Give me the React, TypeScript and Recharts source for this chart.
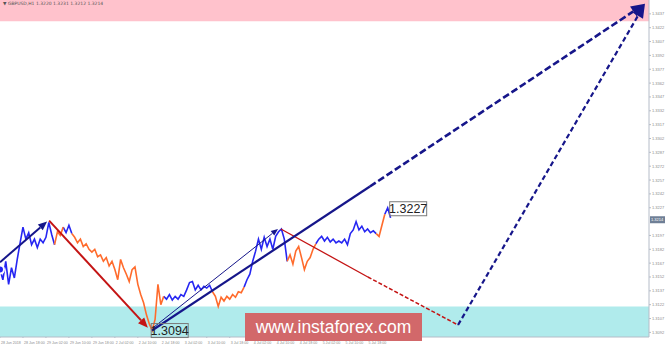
import React from 'react';
import {
  LineChart,
  Line,
  XAxis,
  YAxis,
  ReferenceArea,
  ReferenceLine,
  ReferenceDot,
} from 'recharts';

// H1 bars, one label every 8 bars
const timeLabels = [
  '28 Jun 2018', '28 Jun 18:00', '29 Jun 02:00', '29 Jun 10:00', '29 Jun 18:00',
  '2 Jul 02:00', '2 Jul 10:00', '2 Jul 18:00', '3 Jul 02:00', '3 Jul 10:00',
  '3 Jul 18:00', '4 Jul 02:00', '4 Jul 10:00', '4 Jul 18:00', '5 Jul 02:00',
  '5 Jul 10:00', '5 Jul 18:00',
];

const prices = [
  1.3160, 1.3149, 1.3169, 1.3144, 1.3162, 1.3151, 1.3171, 1.3189, 1.3206, 1.3193,
  1.3200, 1.3187, 1.3193, 1.3184, 1.3193, 1.3189, 1.3195, 1.3211, 1.3198, 1.3187,
  1.3201, 1.3197, 1.3206, 1.3200, 1.3208, 1.3199, 1.3195, 1.3189, 1.3193, 1.3185,
  1.3188, 1.3182, 1.3179, 1.3182, 1.3174, 1.3176, 1.3169, 1.3173, 1.3164, 1.3169,
  1.3160, 1.3149, 1.3171, 1.3162, 1.3155, 1.3147, 1.3160, 1.3163, 1.3144, 1.3133,
  1.3124, 1.3111, 1.3101, 1.3094, 1.3106, 1.3144, 1.3122, 1.3131, 1.3128, 1.3133,
  1.3127, 1.3131, 1.3128, 1.3133, 1.3131, 1.3138, 1.3146, 1.3147, 1.3138, 1.3143,
  1.3138, 1.3142, 1.3140, 1.3143, 1.3136, 1.3131, 1.3120, 1.3130, 1.3126, 1.3131,
  1.3128, 1.3133, 1.3130, 1.3136, 1.3135, 1.3141, 1.3149, 1.3155, 1.3169, 1.3180,
  1.3193, 1.3182, 1.3195, 1.3185, 1.3193, 1.3182, 1.3196, 1.3201, 1.3204, 1.3193,
  1.3169, 1.3176, 1.3166, 1.3180, 1.3185, 1.3173, 1.3160, 1.3169, 1.3173, 1.3182,
  1.3188, 1.3193, 1.3196, 1.3191, 1.3195, 1.3190, 1.3193, 1.3189, 1.3191, 1.3189,
  1.3193, 1.3187, 1.3199, 1.3203, 1.3212, 1.3203, 1.3207, 1.3201, 1.3204, 1.3200,
  1.3202, 1.3199, 1.3196, 1.3208, 1.3220, 1.3227, 1.3216,
];

// bar ranges painted blue (up waves) and orange (down waves)
const blueRanges = [[0, 19], [22, 25], [57, 74], [85, 100], [110, 131], [134, 136]];
const orangeRanges = [[19, 22], [25, 57], [74, 85], [100, 110], [131, 134]];

// 1.3212 sits under the current price marker
const yTicks = [
  1.3092, 1.3107, 1.3122, 1.3137, 1.3152, 1.3167, 1.3182, 1.3197, 1.3227,
  1.3242, 1.3257, 1.3272, 1.3287, 1.3302, 1.3317, 1.3332, 1.3347, 1.3362, 1.3377,
  1.3392, 1.3407, 1.3422, 1.3437,
];

const lastPrice = 1.3214;
const lowPrice = 1.3094;
const highPrice = 1.3227;

// resistance / support zones
const resistanceZone = [1.3429, 1.3452];
const supportZone = [1.3087, 1.3120];

// wave arrows: [startBar, startPrice, endBar, endPrice]
const navyArrows = [
  { from: [0, 1.3168], to: [16.4, 1.3212], width: 2, dash: '', head: 9 },
  { from: [53.3, 1.3097], to: [96.8, 1.3204], width: 1, dash: '', head: 7 },
  { from: [52.9, 1.3094], to: [128.8, 1.3250], width: 2.2, dash: '', head: 0 },
  { from: [128.8, 1.3250], to: [224.6, 1.3448], width: 2.6, dash: '7 3', head: 14 },
  { from: [159.5, 1.3100], to: [224.6, 1.3448], width: 2.2, dash: '5 3', head: 14 },
];
const redArrows = [
  { from: [17.1, 1.3213], to: [51.5, 1.3097], width: 2, dash: '', head: 10 },
  { from: [97.8, 1.3204], to: [128.1, 1.3152], width: 1.3, dash: '', head: 0 },
  { from: [128.1, 1.3152], to: [159.5, 1.3100], width: 1.5, dash: '4 2', head: 0 },
];

const inRanges = (i: number, ranges: number[][]) =>
  ranges.some(([a, b]) => i >= a && i <= b);

const data = prices.map((p, i) => ({
  i,
  blue: inRanges(i, blueRanges) ? p : null,
  orange: inRanges(i, orangeRanges) ? p : null,
}));

const xTicks = timeLabels.map((_, k) => k * 8);

const Arrow = (props: any) => {
  const { x1, y1, x2, y2, color, width, dash, head } = props;
  if ([x1, y1, x2, y2].some((v) => typeof v !== 'number' || isNaN(v))) return <g />;
  const ang = Math.atan2(y2 - y1, x2 - x1);
  const c = Math.cos(ang);
  const s = Math.sin(ang);
  const bx = x2 - head * c;
  const by = y2 - head * s;
  const w = head * 0.42;
  return (
    <g>
      <line
        x1={x1}
        y1={y1}
        x2={head ? bx : x2}
        y2={head ? by : y2}
        stroke={color}
        strokeWidth={width}
        strokeDasharray={dash || undefined}
      />
      {head > 0 && (
        <polygon
          points={`${x2},${y2} ${bx - w * s},${by + w * c} ${bx + w * s},${by - w * c}`}
          fill={color}
        />
      )}
    </g>
  );
};

const PriceBox = ({ cx, cy, text, dx, dy }: any) => (
  <g>
    <rect x={cx + dx} y={cy + dy} width={37} height={14} fill="none" stroke="#7a7a7a" strokeWidth={1} />
    <text
      x={cx + dx + 18.5}
      y={cy + dy + 11.5}
      textAnchor="middle"
      fontSize={12.5}
      fontFamily="Liberation Sans, Arial, sans-serif"
      fill="#222"
    >
      {text}
    </text>
  </g>
);

const TimeTick = ({ x, y, payload }: any) => (
  <text x={x + 1} y={y + 3.5} fontSize={3.6} fill="#8a8a8a" textAnchor="start" fontFamily="Liberation Sans, Arial, sans-serif">
    {timeLabels[payload.value / 8]}
  </text>
);

const PriceTick = ({ x, y, payload }: any) => (
  <text x={x + 1} y={y + 1.5} fontSize={4} fill="#8a8a8a" textAnchor="start" fontFamily="Liberation Sans, Arial, sans-serif">
    {payload.value.toFixed(4)}
  </text>
);

export default function App() {
  return (
    <div style={{ position: 'absolute', left: 0, top: 0, width: 665, height: 344, background: '#fff' }}>
      <LineChart width={665} height={344} data={data} margin={{ top: 0, right: 0, bottom: 0, left: 0 }}>
        <XAxis
          dataKey="i"
          type="number"
          domain={[0, 226]}
          ticks={xTicks}
          interval={0}
          height={7}
          tickSize={1}
          tick={<TimeTick />}
          axisLine={{ stroke: '#b5bcc8' }}
          tickLine={{ stroke: '#b5bcc8' }}
        />
        <YAxis
          orientation="right"
          type="number"
          domain={[1.3087, 1.3452]}
          allowDataOverflow
          ticks={yTicks}
          interval={0}
          width={16}
          tickSize={2}
          tickMargin={0}
          tick={<PriceTick />}
          axisLine={{ stroke: '#b5bcc8' }}
          tickLine={{ stroke: '#b5bcc8' }}
        />
        <ReferenceArea
          y1={resistanceZone[0]}
          y2={resistanceZone[1]}
          x1={0}
          x2={226}
          fill="#ffc2cc"
          fillOpacity={1}
          ifOverflow="visible"
        />
        <ReferenceArea
          y1={supportZone[0]}
          y2={supportZone[1]}
          x1={0}
          x2={226}
          fill="#b0ebec"
          fillOpacity={1}
          ifOverflow="visible"
        />
        <Line
          dataKey="blue"
          stroke="#2626f2"
          strokeWidth={1.6}
          dot={false}
          connectNulls={false}
          isAnimationActive={false}
          type="linear"
        />
        <Line
          dataKey="orange"
          stroke="#ff6b2c"
          strokeWidth={1.6}
          dot={false}
          connectNulls={false}
          isAnimationActive={false}
          type="linear"
        />
        {redArrows.map((a, k) => (
          <ReferenceLine
            key={'r' + k}
            segment={[{ x: a.from[0], y: a.from[1] }, { x: a.to[0], y: a.to[1] }]}
            ifOverflow="visible"
            shape={(p: any) => <Arrow {...p} color="#c41414" width={a.width} dash={a.dash} head={a.head} />}
          />
        ))}
        {navyArrows.map((a, k) => (
          <ReferenceLine
            key={'n' + k}
            segment={[{ x: a.from[0], y: a.from[1] }, { x: a.to[0], y: a.to[1] }]}
            ifOverflow="visible"
            shape={(p: any) => <Arrow {...p} color="#16168a" width={a.width} dash={a.dash} head={a.head} />}
          />
        ))}
        <ReferenceDot
          x={53}
          y={lowPrice}
          ifOverflow="visible"
          shape={(p: any) => <PriceBox cx={p.cx} cy={p.cy} text={lowPrice.toFixed(4)} dx={-1} dy={-7} />}
        />
        <ReferenceDot
          x={135}
          y={highPrice}
          ifOverflow="visible"
          shape={(p: any) => <PriceBox cx={p.cx} cy={p.cy} text={highPrice.toFixed(4)} dx={2} dy={-6} />}
        />
        <ReferenceDot
          x={226}
          y={lastPrice}
          ifOverflow="visible"
          shape={(p: any) => (
            <g>
              <rect x={p.cx + 1} y={p.cy - 3.5} width={15} height={7} fill="#6f7f96" />
              <text x={p.cx + 2} y={p.cy + 1.5} fontSize={4} fill="#fff" fontFamily="Liberation Sans, Arial, sans-serif">
                {lastPrice.toFixed(4)}
              </text>
            </g>
          )}
        />
      </LineChart>
      <div
        style={{
          position: 'absolute',
          left: 3,
          top: 1,
          fontSize: 4.5,
          color: '#555',
          fontFamily: 'DejaVu Sans, sans-serif',
          whiteSpace: 'nowrap',
        }}
      >
        ▼ GBPUSD,H1 1.3220 1.3231 1.3212 1.3214
      </div>
      <div
        style={{
          position: 'absolute',
          left: 245,
          top: 313,
          width: 177,
          height: 28,
          background: '#d2686a',
          color: '#fff',
          fontFamily: 'Liberation Sans, Arial, sans-serif',
          fontSize: 17.5,
          lineHeight: '28px',
          textAlign: 'center',
        }}
      >
        www.instaforex.com
      </div>
    </div>
  );
}
